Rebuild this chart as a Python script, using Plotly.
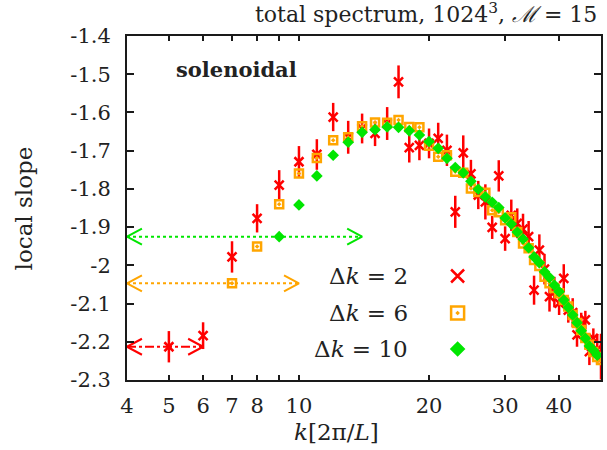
import numpy as np
import plotly.graph_objects as go

# ---------------- data ----------------
k_dk2 = list(range(5, 51))
slope_dk2 = [-2.213, -2.184, -1.978, -1.877, -1.790, -1.729, -1.710, -1.612, -1.665, -1.642,
             -1.655, -1.629, -1.520, -1.692, -1.686, -1.681, -1.668, -1.699, -1.860, -1.706,
             -1.761, -1.816, -1.834, -1.901, -1.766, -1.930, -1.869, -1.890, -1.905, -1.925,
             -2.065, -1.960, -2.010, -2.082, -2.070, -2.099, -2.034, -2.117, -2.124, -2.182,
             -2.160, -2.143, -2.226, -2.191, -2.220, -2.239]
err_dk2 = [0.041, 0.035, 0.041, 0.037, 0.039, 0.041, 0.040, 0.037, 0.043, 0.039,
           0.033, 0.043, 0.043, 0.039, 0.039, 0.039, 0.041, 0.041, 0.042, 0.046,
           0.037, 0.037, 0.046, 0.030, 0.041, 0.032, 0.041, 0.039, 0.040, 0.041,
           0.038, 0.041, 0.040, 0.039, 0.040, 0.031, 0.037, 0.033, 0.038, 0.031,
           0.036, 0.024, 0.035, 0.026, 0.040, 0.060]

k_dk6 = list(range(7, 51))
slope_dk6 = [-2.047, -1.951, -1.840, -1.760, -1.719, -1.673, -1.665, -1.636, -1.626, -1.627,
             -1.620, -1.638, -1.639, -1.687, -1.716, -1.712, -1.755, -1.758, -1.799, -1.808,
             -1.810, -1.856, -1.861, -1.882, -1.874, -1.913, -1.943, -1.955, -1.986, -2.002,
             -2.030, -2.047, -2.059, -2.073, -2.091, -2.108, -2.130, -2.151, -2.169, -2.190,
             -2.208, -2.227, -2.240, -2.248]

k_dk10 = list(range(9, 50))
slope_dk10 = [-1.925, -1.842, -1.766, -1.712, -1.678, -1.652, -1.645, -1.638, -1.639, -1.648,
              -1.659, -1.676, -1.694, -1.720, -1.744, -1.758, -1.780, -1.801, -1.821, -1.835,
              -1.849, -1.876, -1.892, -1.913, -1.931, -1.954, -1.978, -1.993, -2.017, -2.032,
              -2.052, -2.069, -2.091, -2.110, -2.130, -2.150, -2.171, -2.191, -2.211, -2.222,
              -2.235]

series_names = ["Δ<i>k</i> = 2", "Δ<i>k</i> = 6", "Δ<i>k</i> = 10"]
window_widths = [2, 6, 10]

x_tickvals = [4, 5, 6, 7, 8, 10, 20, 30, 40]
x_ticktext = ["4", "5", "6", "7", "8", "10", "20", "30", "40"]
x_minor_tickvals = [9]
y_tickvals = [-2.3, -2.2, -2.1, -2.0, -1.9, -1.8, -1.7, -1.6, -1.5, -1.4]
y_ticktext = ["-2.3", "-2.2", "-2.1", "-2", "-1.9", "-1.8", "-1.7", "-1.6", "-1.5", "-1.4"]

# ---------------- style ----------------
RED = "#ff0000"
ORANGE = "#ffa500"
GREEN = "#00e600"
FONT = "DejaVu Serif"
TXT = "#222222"
W, H = 607, 450
ML, MR, MT, MB = 127, 4, 36, 70
PW, PH = W - ML - MR, H - MT - MB
XR = [np.log10(4), np.log10(50)]
YR = [-2.3, -1.4]
HEAD_LEN, HEAD_HALF = 15, 8  # arrowhead size in pixels


def px_to_paper(px, py):
    return (px - ML) / PW, (H - MB - py) / PH


def px_to_data(px, py):
    fx, fy = px_to_paper(px, py)
    return 10 ** (XR[0] + fx * (XR[1] - XR[0])), YR[0] + fy * (YR[1] - YR[0])


def data_to_px(k, v):
    return (ML + (np.log10(k) - XR[0]) / (XR[1] - XR[0]) * PW,
            MT + (YR[1] - v) / (YR[1] - YR[0]) * PH)


fig = go.Figure()

# window-width arrows (dotted lines with open arrowheads)
arrow_specs = [
    (k_dk2[0], slope_dk2[0], window_widths[0], RED, "dashdot"),
    (k_dk6[0], slope_dk6[0], window_widths[1], ORANGE, "dot"),
    (k_dk10[0], slope_dk10[0], window_widths[2], GREEN, "dot"),
]
for kc, yv, dk, col, dash in arrow_specs:
    k_lo, k_hi = kc - dk / 2, kc + dk / 2
    fig.add_trace(go.Scatter(x=[k_lo, k_hi], y=[yv, yv], mode="lines",
                             line=dict(color=col, width=2, dash=dash),
                             showlegend=False, hoverinfo="skip", cliponaxis=False))
    hx, hy = [], []
    for kend, sgn in [(k_lo, 1), (k_hi, -1)]:
        tx, ty = data_to_px(kend, yv)
        for p in [(tx + sgn * HEAD_LEN, ty - HEAD_HALF), (tx, ty),
                  (tx + sgn * HEAD_LEN, ty + HEAD_HALF)]:
            dx, dy = px_to_data(*p)
            hx.append(dx)
            hy.append(dy)
        hx.append(None)
        hy.append(None)
    fig.add_trace(go.Scatter(x=hx, y=hy, mode="lines",
                             line=dict(color=col, width=2),
                             showlegend=False, hoverinfo="skip", cliponaxis=False))

# data series
fig.add_trace(go.Scatter(x=k_dk2, y=slope_dk2, mode="markers",
                         error_y=dict(type="data", array=err_dk2, color=RED,
                                      thickness=2.5, width=0),
                         marker=dict(symbol="x-thin-open", size=9, color=RED,
                                     line=dict(color=RED, width=2.5)),
                         showlegend=False))
fig.add_trace(go.Scatter(x=k_dk6, y=slope_dk6, mode="markers",
                         marker=dict(symbol="square-open-dot", size=8, color=ORANGE,
                                     line=dict(color=ORANGE, width=2.5)),
                         showlegend=False))
fig.add_trace(go.Scatter(x=k_dk10, y=slope_dk10, mode="markers",
                         marker=dict(symbol="diamond", size=9, color=GREEN,
                                     line=dict(width=0)),
                         showlegend=False))

# manual legend (text left, symbol right)
annotations = []
leg_rows_py = [276, 313, 349]
leg_text_px, leg_mark_px = 411, 459
leg_symbols = [
    dict(symbol="x-thin-open", size=13, color=RED, line=dict(color=RED, width=2.5)),
    dict(symbol="square-open-dot", size=13, color=ORANGE, line=dict(color=ORANGE, width=2.5)),
    dict(symbol="diamond", size=12, color=GREEN, line=dict(width=0)),
]
for name, py, sym in zip(series_names, leg_rows_py, leg_symbols):
    tx, ty = px_to_paper(leg_text_px, py)
    annotations.append(dict(x=tx, y=ty, xref="paper", yref="paper", text=name,
                            showarrow=False, xanchor="right", yanchor="middle",
                            font=dict(family=FONT, size=23, color=TXT)))
    mx, my = px_to_data(leg_mark_px, py)
    fig.add_trace(go.Scatter(x=[mx], y=[my], mode="markers",
                             marker=sym, showlegend=False, hoverinfo="skip"))

# texts
tx, ty = px_to_paper(601, 13)
annotations.append(dict(x=tx, y=ty, xref="paper", yref="paper",
                        text="total spectrum, 1024<sup>3</sup>, <i>ℳ</i> = 15",
                        showarrow=False, xanchor="right", yanchor="middle",
                        font=dict(family=FONT, size=22, color=TXT)))
tx, ty = px_to_paper(174, 70)
annotations.append(dict(x=tx, y=ty, xref="paper", yref="paper",
                        text="<b>solenoidal</b>", showarrow=False,
                        xanchor="left", yanchor="middle",
                        font=dict(family=FONT, size=21, color=TXT)))
tx, ty = px_to_paper(24, 208)
annotations.append(dict(x=tx, y=ty, xref="paper", yref="paper", text="local slope",
                        textangle=-90, showarrow=False, xanchor="center", yanchor="middle",
                        font=dict(family=FONT, size=23, color=TXT)))
tx, ty = px_to_paper(337, 432)
annotations.append(dict(x=tx, y=ty, xref="paper", yref="paper",
                        text="<i>k</i>[2π/<i>L</i>]", showarrow=False,
                        xanchor="center", yanchor="middle",
                        font=dict(family=FONT, size=23, color=TXT)))

# longer major tick at k=10 (bottom and top)
shapes = []
for yanc, sign in [(0, 1), (1, -1)]:
    shapes.append(dict(type="line", xref="x", yref="paper", x0=np.log10(10), x1=np.log10(10),
                       ysizemode="pixel", yanchor=yanc, y0=0, y1=sign * 9,
                       line=dict(color="#1a1a1a", width=1.5)))

axis_common = dict(showgrid=False, zeroline=False, showline=True, linecolor="#1a1a1a",
                   linewidth=2, mirror="ticks", ticks="inside", tickcolor="#1a1a1a",
                   tickwidth=1.5, tickfont=dict(family=FONT, size=21, color=TXT))

fig.update_layout(
    width=W, height=H,
    margin=dict(l=ML, r=MR, t=MT, b=MB),
    paper_bgcolor="white", plot_bgcolor="white",
    showlegend=False,
    xaxis=dict(type="log", range=XR, tickvals=x_tickvals,
               ticktext=x_ticktext, ticklen=5, ticklabelstandoff=6,
               minor=dict(tickvals=x_minor_tickvals, ticks="inside", ticklen=5,
                          tickwidth=1.5, tickcolor="#1a1a1a", showgrid=False),
               **axis_common),
    yaxis=dict(range=YR, tickvals=y_tickvals, ticktext=y_ticktext,
               ticklen=7, ticklabelstandoff=10, **axis_common),
    annotations=annotations,
    shapes=shapes,
)

fig.write_html("out.html")
